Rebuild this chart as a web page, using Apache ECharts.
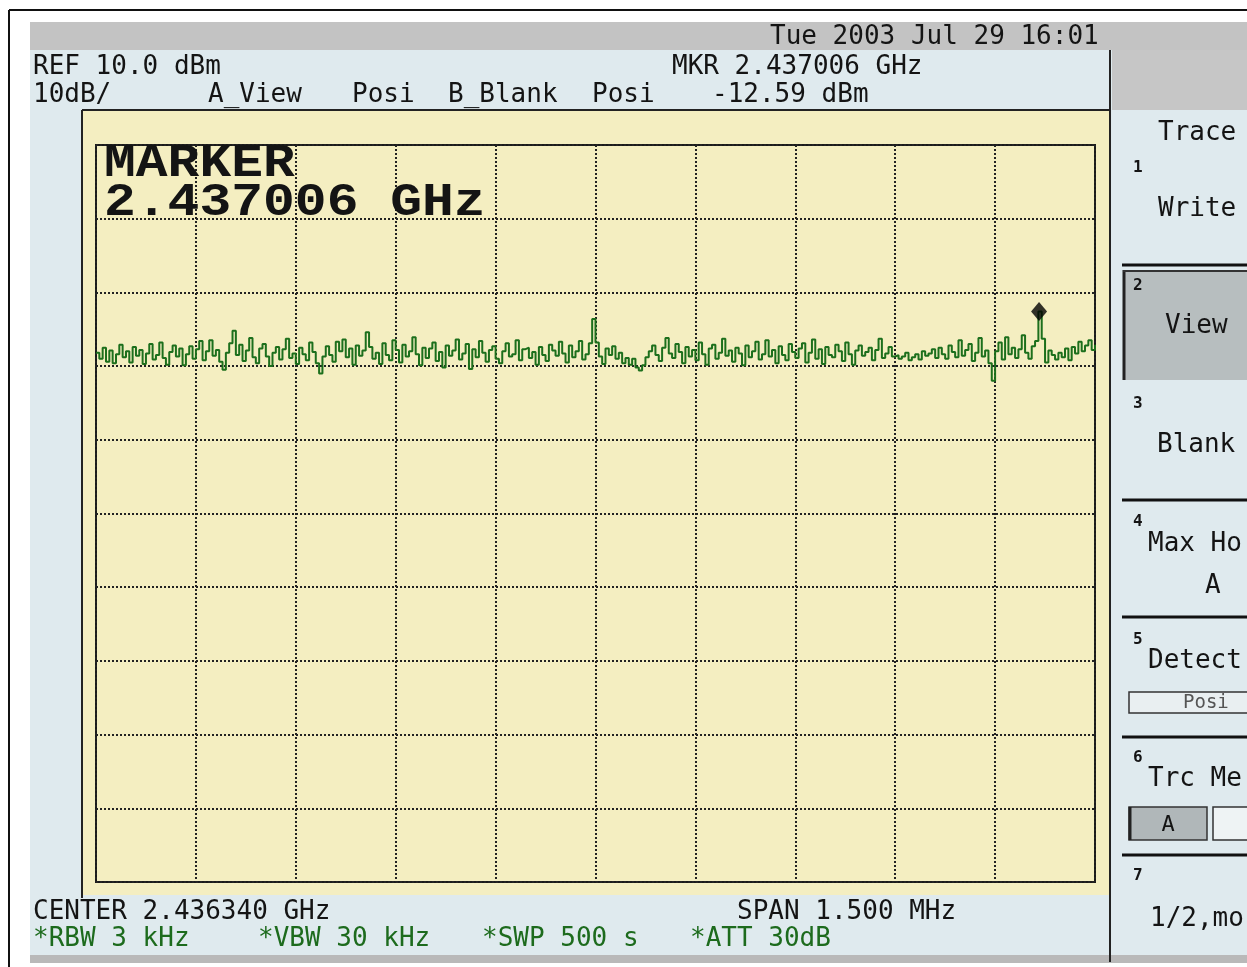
<!DOCTYPE html>
<html>
<head>
<meta charset="utf-8">
<title>Spectrum trace</title>
<script src="https://cdn.jsdelivr.net/npm/echarts@6/dist/echarts.min.js"></script>
<style>
  html, body { margin: 0; padding: 0; background: #fff; }
  #chart { width: 1247px; height: 967px; }
</style>
</head>
<body>
<div id="chart"></div>
<script>
// sweep settings (offset from center, kHz)
const spanStartKHz = -750;
const spanEndKHz = 750;
const sweepStepKHz = 5;
const refLevel = 10;
const bottomLevel = -90;

// trace A, dBm
const traceDbm = [
  -18.2,-19.0,-17.5,-19.4,-17.9,-19.6,-18.4,-17.1,-18.8,-18.0,
  -19.5,-17.4,-18.6,-17.8,-19.7,-18.3,-17.0,-19.1,-18.5,-16.8,
  -18.9,-19.8,-18.1,-17.2,-18.7,-17.6,-19.9,-18.4,-17.3,-19.0,
  -17.7,-16.6,-19.2,-18.0,-16.5,-18.6,-17.8,-19.4,-20.5,-18.2,
  -16.9,-15.2,-18.5,-17.1,-19.3,-17.9,-16.2,-18.8,-19.6,-17.6,
  -17.0,-18.7,-20.0,-18.2,-17.4,-19.1,-17.7,-16.3,-18.9,-18.3,
  -19.7,-17.5,-18.4,-19.2,-16.8,-18.1,-19.6,-21.0,-18.7,-17.3,
  -18.5,-19.4,-16.7,-18.0,-16.4,-18.8,-17.6,-19.8,-17.2,-18.6,
  -17.9,-15.4,-17.4,-19.0,-18.2,-19.7,-16.9,-18.5,-19.2,-16.5,
  -17.8,-19.5,-17.1,-18.7,-18.0,-16.1,-18.4,-19.9,-17.5,-18.9,
  -17.6,-16.8,-19.3,-18.1,-20.2,-17.2,-18.6,-17.9,-16.4,-19.1,
  -18.3,-17.0,-20.4,-17.7,-18.8,-16.6,-18.2,-19.4,-17.8,-17.3,
  -19.0,-19.6,-18.0,-16.9,-18.7,-18.4,-16.5,-19.2,-17.7,-17.5,
  -18.9,-18.1,-19.8,-17.4,-18.5,-19.3,-17.1,-17.9,-18.6,-16.7,
  -18.3,-19.5,-17.2,-18.8,-18.0,-16.6,-19.1,-18.4,-16.9,-13.6,
  -16.8,-18.7,-19.7,-17.6,-18.5,-17.3,-19.0,-18.2,-19.6,-18.9,
  -19.8,-19.0,-20.2,-20.6,-19.9,-18.8,-18.0,-17.2,-18.5,-19.3,
  -17.5,-16.2,-18.3,-18.9,-17.0,-18.1,-19.6,-17.4,-18.7,-17.8,
  -19.2,-16.8,-18.4,-19.8,-17.6,-17.1,-19.0,-18.2,-16.3,-18.6,
  -17.9,-19.4,-17.5,-18.3,-19.9,-17.2,-18.8,-18.0,-16.7,-19.1,
  -18.4,-16.5,-18.7,-17.8,-19.6,-17.3,-18.5,-19.2,-17.0,-18.1,
  -18.9,-17.6,-16.9,-19.5,-18.2,-16.4,-19.0,-17.7,-19.7,-17.4,
  -18.5,-18.8,-17.1,-18.0,-19.3,-16.8,-18.4,-19.8,-17.9,-17.2,
  -18.6,-18.1,-17.5,-19.2,-17.8,-16.3,-18.9,-18.3,-17.4,-18.7,
  -18.5,-19.0,-18.7,-18.2,-19.2,-18.8,-18.4,-19.1,-18.0,-18.6,
  -18.3,-17.7,-18.9,-17.5,-18.4,-19.0,-17.2,-18.1,-18.8,-16.5,
  -18.6,-17.8,-17.0,-19.3,-18.2,-16.2,-18.7,-17.9,-19.6,-22.0,
  -18.0,-16.8,-19.1,-16.1,-18.4,-17.5,-18.9,-17.7,-15.8,-18.2,
  -19.0,-17.3,-16.6,-12.6,-16.3,-19.5,-17.9,-18.5,-19.1,-18.2,
  -18.8,-17.6,-19.2,-17.4,-18.3,-16.7,-18.0,-17.2,-16.5,-17.8,
  -17.1
];

const markerKHz = 666;
const markerDbm = -12.59;

// screen annotations
const headerTexts = [
  ['Tue 2003 Jul 29 16:01', 770, 37],
  ['REF 10.0 dBm', 33, 67],
  ['10dB/', 33, 95],
  ['A_View', 208, 95],
  ['Posi', 352, 95],
  ['B_Blank', 448, 95],
  ['Posi', 592, 95],
  ['MKR 2.437006 GHz', 672, 67],
  ['-12.59 dBm', 712, 95],
  ['CENTER 2.436340 GHz', 33, 912],
  ['SPAN 1.500 MHz', 737, 912]
];
const footerTexts = [
  ['*RBW 3 kHz', 33, 939],
  ['*VBW 30 kHz', 258, 939],
  ['*SWP 500 s', 482, 939],
  ['*ATT 30dB', 690, 939]
];
const softkeyLabels = [
  ['Trace', 1158, 133],
  ['Write', 1158, 209],
  ['View', 1165, 326],
  ['Blank', 1157, 445],
  ['Max Ho', 1148, 544],
  ['A', 1205, 586],
  ['Detect', 1148, 661],
  ['Trc Me', 1148, 779],
  ['1/2,mo', 1150, 919]
];
const softkeyNumbers = [['1', 168], ['2', 286], ['3', 404], ['4', 522], ['5', 640], ['6', 758], ['7', 876]];
const softkeySeparators = [265, 500, 617, 737, 855];

const traceData = traceDbm.map((v, i) => [spanStartKHz + i * sweepStepKHz, v]);

const mono = '"DejaVu Sans Mono", monospace';

function txt(s, x, y, opts) {
  opts = opts || {};
  return {
    type: 'text', x: x, y: y, z: 50,
    scaleY: opts.scaleY || 1,
    style: {
      text: s,
      fill: opts.color || '#141414',
      font: (opts.weight || 'normal') + ' ' + (opts.size || 26) + 'px ' + (opts.family || mono),
      align: opts.align || 'left',
      verticalAlign: 'middle'
    }
  };
}

function rect(x, y, w, h, fill, z) {
  return { type: 'rect', z: z === undefined ? -10 : z, shape: { x: x, y: y, width: w, height: h }, style: { fill: fill } };
}

function line(x1, y1, x2, y2, w, color, z) {
  return {
    type: 'line', z: z === undefined ? 5 : z,
    shape: { x1: x1, y1: y1, x2: x2, y2: y2 },
    style: { stroke: color || '#111', lineWidth: w }
  };
}

const graphics = [
  // frame and panels
  rect(30, 22, 1217, 28, '#c3c3c3'),
  rect(30, 50, 1217, 905, '#dfeaee'),
  rect(1112, 50, 135, 60, '#c6c6c6'),
  rect(30, 955, 1217, 8, '#b9b9b9'),
  rect(83, 111, 1026, 784, '#f4eec1'),
  line(9, 10, 1247, 10, 2, '#111'),
  line(9, 10, 9, 967, 2, '#111'),
  line(82, 110, 1110, 110, 2, '#222'),
  line(82, 110, 82, 898, 2, '#222'),
  line(1110, 50, 1110, 962, 2, '#222'),
  // softkey "View" pressed
  rect(1123, 270, 124, 110, '#b7bebf', -5),
  line(1124, 270, 1124, 380, 3, '#222'),
  line(1123, 271, 1247, 271, 2, '#333'),
  // detector box
  { type: 'rect', z: 5, shape: { x: 1129, y: 692, width: 130, height: 21 }, style: { fill: '#e9eff1', stroke: '#333', lineWidth: 1.5 } },
  txt('Posi', 1183, 703, { size: 19, color: '#555' }),
  // trace memory boxes
  { type: 'rect', z: 5, shape: { x: 1129, y: 807, width: 78, height: 33 }, style: { fill: '#b0b7b9', stroke: '#333', lineWidth: 1.5 } },
  line(1130, 807, 1130, 840, 3, '#222', 6),
  txt('A', 1168, 825, { size: 22, align: 'center' }),
  { type: 'rect', z: 5, shape: { x: 1213, y: 807, width: 50, height: 33 }, style: { fill: '#eef3f4', stroke: '#333', lineWidth: 1.5 } },
  // big marker readout
  txt('MARKER', 104, 164, { size: 53, weight: 'bold', family: '"Liberation Mono", monospace', scaleY: 0.88 }),
  txt('2.437006 GHz', 104, 203, { size: 53, weight: 'bold', family: '"Liberation Mono", monospace', scaleY: 0.88 })
];

softkeySeparators.forEach(y => graphics.push(line(1122, y, 1247, y, 3, '#111')));
headerTexts.forEach(t => graphics.push(txt(t[0], t[1], t[2])));
footerTexts.forEach(t => graphics.push(txt(t[0], t[1], t[2], { color: '#1d6b1d' })));
softkeyLabels.forEach(t => graphics.push(txt(t[0], t[1], t[2])));
softkeyNumbers.forEach(t => graphics.push(txt(t[0], 1133, t[1], { size: 16, weight: 'bold' })));

const chart = echarts.init(document.getElementById('chart'));

const gridLine = { show: true, lineStyle: { color: '#222', width: 2, type: [2, 2] } };

chart.setOption({
  animation: false,
  backgroundColor: '#ffffff',
  graphic: graphics,
  grid: {
    left: 96, top: 145, width: 999, height: 737,
    show: true, borderColor: '#1a1a1a', borderWidth: 2, backgroundColor: 'transparent'
  },
  xAxis: {
    type: 'value', min: spanStartKHz, max: spanEndKHz, interval: 150,
    axisLine: { show: false }, axisTick: { show: false }, axisLabel: { show: false },
    splitLine: gridLine
  },
  yAxis: {
    type: 'value', min: bottomLevel, max: refLevel, interval: 10,
    axisLine: { show: false }, axisTick: { show: false }, axisLabel: { show: false },
    splitLine: gridLine
  },
  series: [
    {
      name: 'Trace A',
      type: 'line',
      step: 'end',
      data: traceData,
      showSymbol: false,
      lineStyle: { color: '#1c6f1c', width: 2 },
      z: 3
    },
    {
      name: 'Marker',
      type: 'scatter',
      data: [[markerKHz, markerDbm]],
      symbol: 'diamond',
      symbolSize: [16, 19],
      itemStyle: { color: '#000' },
      z: 4
    }
  ]
});
</script>
</body>
</html>
